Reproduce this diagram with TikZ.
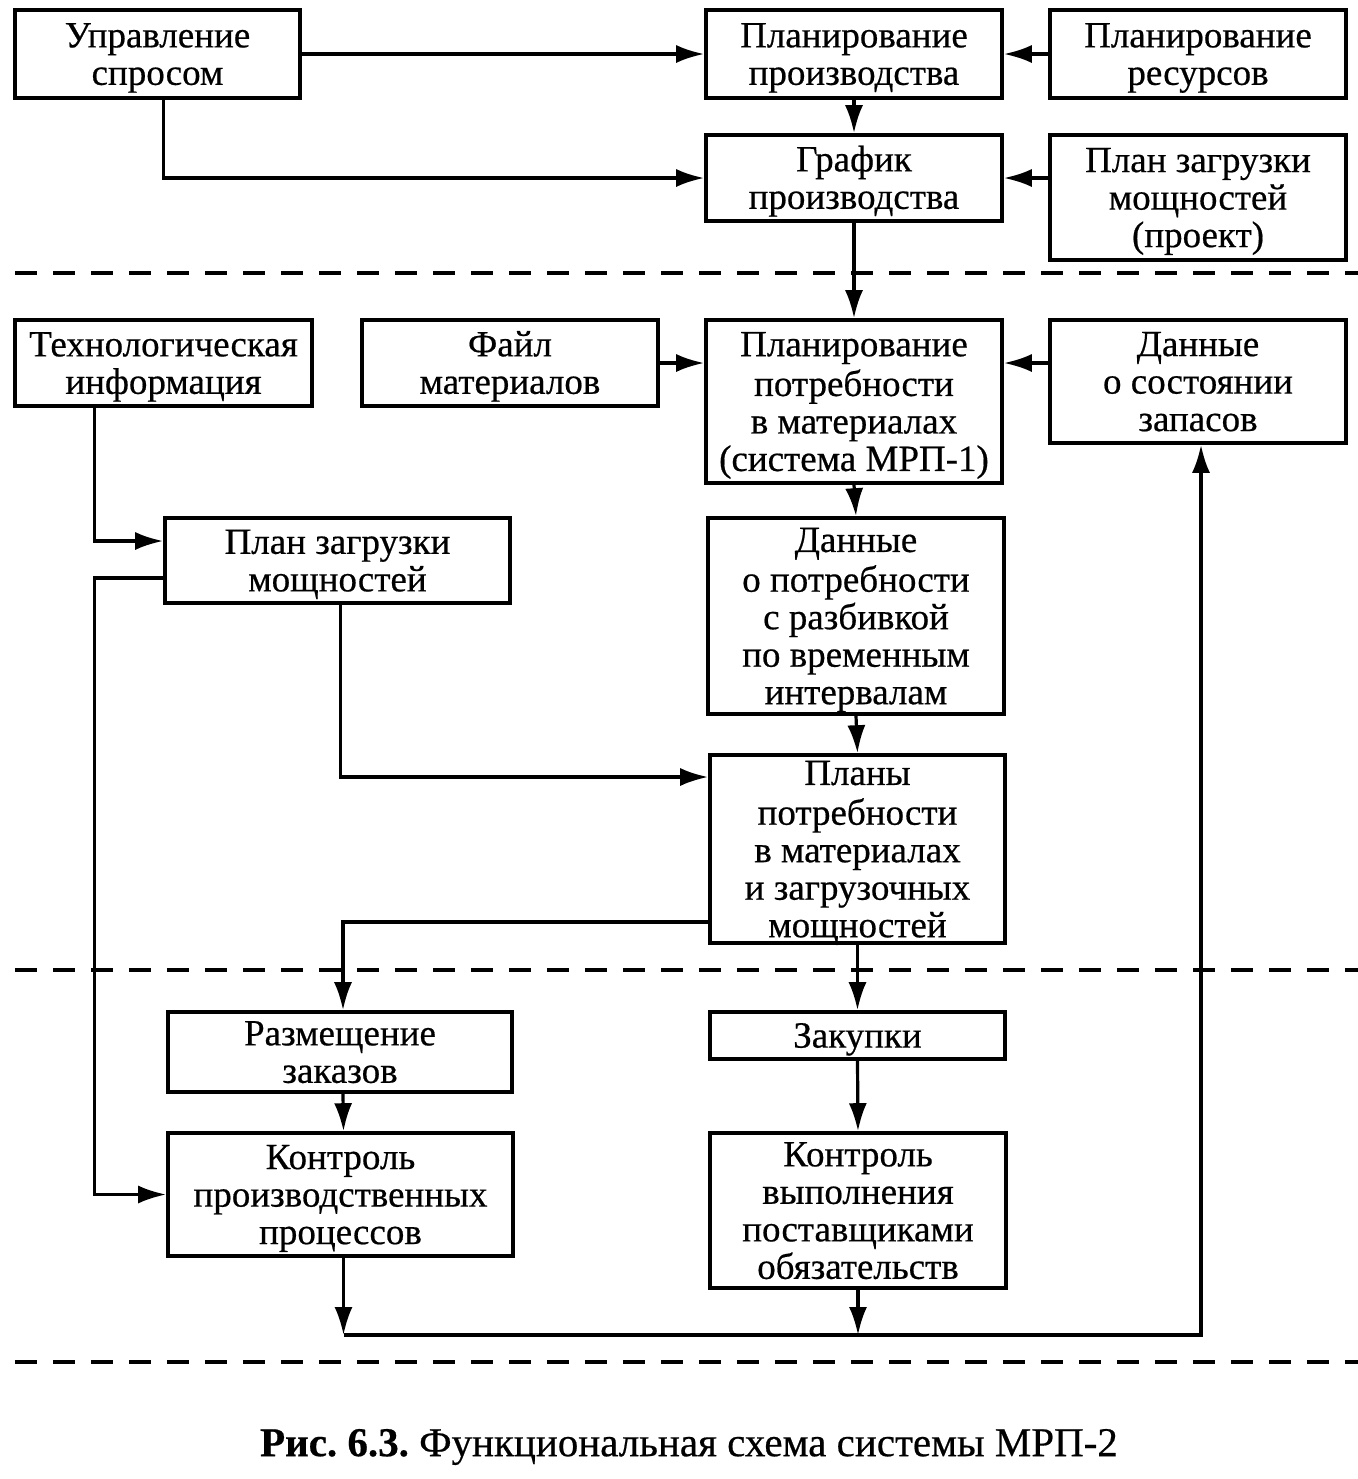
\documentclass[tikz,border=0pt]{standalone}
\usepackage{fontspec}
\setmainfont{Liberation Serif}[FakeBold=0.5]
\frenchspacing
\usetikzlibrary{arrows.meta,calc}
\tikzset{
  box/.style={draw, line width=1.8pt, rectangle, inner sep=0pt},
  tx/.style={align=center, inner sep=0pt, yshift=-2.3pt,
    font=\fontsize{18.5}{18.75}\selectfont},
  arr/.style={line width=1.6pt, -{Latex[length=14pt,width=9pt]}},
  sep/.style={line width=2pt, dash pattern=on 11pt off 8pt},
}
\begin{document}
\begin{tikzpicture}[x=0.5pt,y=-0.5pt]
\useasboundingbox (0,0) rectangle (1358,1479);
% boxes
\node[box, minimum width=142.5pt, minimum height=44pt, label={[tx]center:\strut Управление\\спросом\strut}] (upr) at (157.5,54) {};
\node[box, minimum width=148pt, minimum height=44pt, label={[tx]center:\strut Планирование\\производства\strut}] (plpr) at (854,54) {};
\node[box, minimum width=148pt, minimum height=44pt, label={[tx]center:\strut Планирование\\ресурсов\strut}] (plres) at (1198,54) {};
\node[box, minimum width=148pt, minimum height=43pt, label={[tx]center:\strut График\\производства\strut}] (graf) at (854,178) {};
\node[box, minimum width=148pt, minimum height=62.5pt, label={[tx]center:\strut План загрузки\\мощностей\\(проект)\strut}] (plzp) at (1198,197.5) {};
\node[box, minimum width=148.5pt, minimum height=43pt, label={[tx]center:\strut Технологическая\\информация\strut}] (tech) at (163.5,363) {};
\node[box, minimum width=148pt, minimum height=43pt, label={[tx]center:\strut Файл\\материалов\strut}] (file) at (510,363) {};
\node[box, minimum width=148pt, minimum height=81.5pt, label={[tx]center:\strut Планирование\\потребности\\в материалах\\(система МРП-1)\strut}] (mrp) at (854,401.5) {};
\node[box, minimum width=148pt, minimum height=61.5pt, label={[tx]center:\strut Данные\\о состоянии\\запасов\strut}] (zap) at (1198,381.5) {};
\node[box, minimum width=172.5pt, minimum height=42.5pt, label={[tx]center:\strut План загрузки\\мощностей\strut}] (plz) at (337.5,560.5) {};
\node[box, minimum width=148pt, minimum height=98pt, label={[tx]center:\strut Данные\\о потребности\\с разбивкой\\по временным\\интервалам\strut}] (dann) at (856,616) {};
\node[box, minimum width=147.5pt, minimum height=94pt, label={[tx]center:\strut Планы\\потребности\\в материалах\\и загрузочных\\мощностей\strut}] (plany) at (857.5,849) {};
\node[box, minimum width=172pt, minimum height=40pt, label={[tx]center:\strut Размещение\\заказов\strut}] (razm) at (340,1052) {};
\node[box, minimum width=147.5pt, minimum height=23.5pt, label={[tx]center:\strut Закупки\strut}] (zak) at (857.5,1035.5) {};
\node[box, minimum width=172.5pt, minimum height=61.5pt, label={[tx]center:\strut Контроль\\производственных\\процессов\strut}] (kpp) at (340.5,1194.5) {};
\node[box, minimum width=148pt, minimum height=77.5pt, label={[tx]center:\strut Контроль\\выполнения\\поставщиками\\обязательств\strut}] (kvp) at (858,1210.5) {};
% separators
\draw[sep] (15,273) -- (1358,273);
\draw[sep] (15,970) -- (1358,970);
\draw[sep] (15,1362) -- (1358,1362);
% connectors
\draw[arr] (upr.east) -- (plpr.west);
\draw[arr] ($(upr.south)+(6,0)$) |- (graf.west);
\draw[arr] (plres.west) -- (plpr.east);
\draw[arr] (plpr.south) -- (graf.north);
\draw[arr] (graf.east -| plzp.west) -- (graf.east);
\draw[arr] (graf.south) -- (mrp.north);
\draw[arr] (file.east) -- (file.east -| mrp.west);
\draw[arr] (file.east -| zap.west) -- (file.east -| mrp.east);
\draw[arr] (mrp.south) -- (dann.north);
\coordinate (t1) at ($(tech.south west)+(81,0)$);
\draw[arr] (t1) |- ($(plz.west)+(0,-19.5)$);
\draw[arr] ($(plz.west)+(0,17.5)$) -| (t1 |- kpp.west) -- (kpp.west);
\draw[arr] ($(plz.south)+(3,0)$) |- ($(plany.west)+(0,-72)$);
\draw[arr] (dann.south) -- (plany.north);
\draw[arr] ($(plany.west)+(0,73)$) -| ($(razm.north)+(3,0)$);
\draw[arr] (plany.south) -- (zak.north);
\draw[arr] ($(razm.south)+(3,0)$) -- ($(kpp.north)+(3,0)$);
\draw[arr] (zak.south) -- (kvp.north);
\coordinate (b0) at (0,1335);
\coordinate (b1) at ($(kpp.south)+(3,0)$);
\coordinate (b2) at ($(zap.south)+(3,0)$);
\draw[arr] (b1) -- (b1 |- b0);
\draw[arr] (kvp.south) -- (kvp.south |- b0);
\draw[arr] (b1 |- b0) -- (b2 |- b0) -- (b2);
% caption
\node[font=\fontsize{20.5}{24}\selectfont] (cap) at (689,1447) {\textbf{Рис. 6.3.} Функциональная схема системы МРП-2};
\end{tikzpicture}
\end{document}
